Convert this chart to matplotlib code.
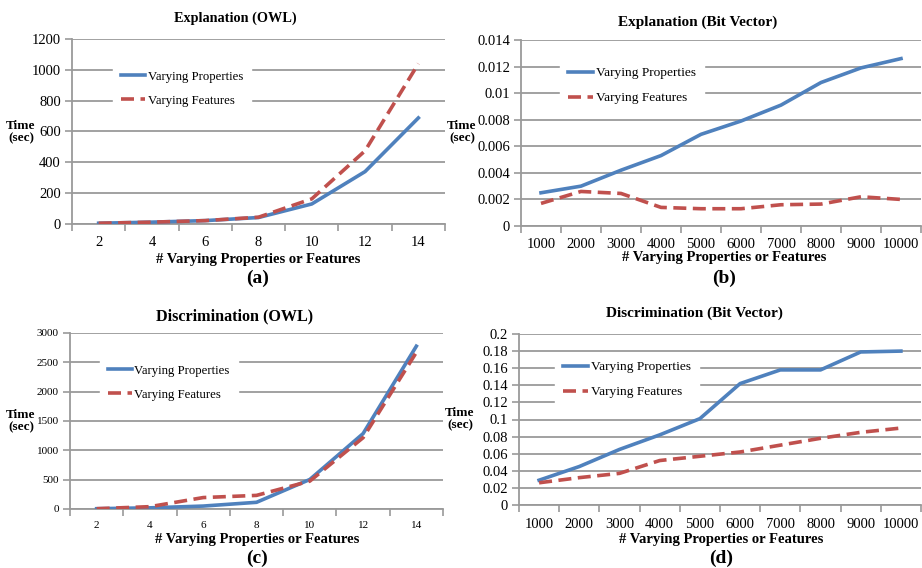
import numpy as np
import matplotlib.pyplot as plt

plt.rcParams['font.family'] = ['Liberation Serif', 'DejaVu Serif']

# data
owl_x = [2, 4, 6, 8, 10, 12, 14]
bit_x = [1000, 2000, 3000, 4000, 5000, 6000, 7000, 8000, 9000, 10000]

expl_owl_props = [5, 12, 22, 42, 130, 340, 688]
expl_owl_feats = [5, 12, 22, 44, 163, 475, 1040]

expl_bit_props = [0.0025, 0.003, 0.0042, 0.0053, 0.0069, 0.0079, 0.0091, 0.0108, 0.0119, 0.0126]
expl_bit_feats = [0.0017, 0.0026, 0.00245, 0.0014, 0.0013, 0.0013, 0.0016, 0.00165, 0.0022, 0.002]

disc_owl_props = [5, 20, 50, 114, 503, 1285, 2775]
disc_owl_feats = [5, 40, 195, 232, 475, 1215, 2670]

disc_bit_props = [0.029, 0.045, 0.065, 0.082, 0.101, 0.142, 0.158, 0.158, 0.179, 0.180]
disc_bit_feats = [0.026, 0.032, 0.037, 0.052, 0.057, 0.062, 0.070, 0.078, 0.085, 0.090]

BLUE = '#4f81bd'
RED = '#c0504d'
GRID = '#9a9a9a'

W, H = 922, 568
fig = plt.figure(figsize=(W / 100, H / 100), dpi=100)


def box(l, t, r, b):
    return [l / W, 1 - b / H, (r - l) / W, (b - t) / H]


def panel(rect, cats, props, feats, ymax, ystep, fmt, tick_fs, leg_xy, leg_fs):
    ax = fig.add_axes(rect)
    pos = np.arange(len(cats))
    ax.plot(pos, props, color=BLUE, lw=2.6, label='Varying Properties', zorder=3)
    ax.plot(pos, feats, color=RED, lw=2.6, ls=(0, (3.6, 1.8)), label='Varying Features', zorder=3)
    ax.set_xlim(-0.5, len(cats) - 0.5)
    ax.set_ylim(0, ymax)
    yt = np.arange(0, ymax + ystep / 2, ystep)
    ax.set_yticks(yt)
    ax.set_yticklabels([fmt(v) for v in yt], fontsize=tick_fs)
    ax.set_xticks(pos)
    ax.set_xticklabels([str(c) for c in cats], fontsize=tick_fs)
    ax.set_xticks(np.arange(-0.5, len(cats)), minor=True)
    ax.tick_params(axis='x', which='major', length=0, pad=9)
    ax.tick_params(axis='x', which='minor', length=5, color=GRID, width=1.2)
    ax.tick_params(axis='y', length=5, color=GRID, width=1.2, pad=3)
    ax.grid(axis='y', color=GRID, lw=1.3)
    ax.set_axisbelow(True)
    for s in ['top', 'right']:
        ax.spines[s].set_visible(False)
    for s in ['left', 'bottom']:
        ax.spines[s].set_color(GRID)
        ax.spines[s].set_linewidth(1.3)
    # legend anchor given in picture pixels
    anchor = (leg_xy[0] / W, 1 - leg_xy[1] / H)
    leg = ax.legend(loc='upper left', bbox_to_anchor=anchor, bbox_transform=fig.transFigure,
                    frameon=True, fancybox=False, edgecolor='white', framealpha=1,
                    fontsize=leg_fs, handlelength=1.9, handletextpad=0.2, labelspacing=0.95,
                    borderpad=0.6, borderaxespad=0)
    leg.set_zorder(2)
    return ax


def fmt_int(v):
    return '%d' % v


def fmt_dec(v):
    return '0' if v == 0 else ('%g' % round(v, 4))


panel(box(72, 39, 445, 224), owl_x, expl_owl_props, expl_owl_feats, 1200, 200, fmt_int, 10.5, (113, 63), 9.2)
panel(box(521, 40, 921, 226), bit_x, expl_bit_props, expl_bit_feats, 0.014, 0.002, fmt_dec, 10.5, (560, 59), 9.6)
panel(box(70, 333, 443, 509), owl_x, disc_owl_props, disc_owl_feats, 3000, 500, fmt_int, 8, (100, 357), 9.2)
panel(box(519, 334, 921, 505), bit_x, disc_bit_props, disc_bit_feats, 0.2, 0.02, fmt_dec, 10.5, (555, 353), 9.6)

titles = [('Explanation (OWL)', 235, 18, 10.3), ('Explanation (Bit Vector)', 698, 22, 11),
          ('Discrimination (OWL)', 235, 316, 11.6), ('Discrimination (Bit Vector)', 694, 313, 11)]
for t, x, y, fs in titles:
    fig.text(x / W, 1 - y / H, t, ha='center', va='center', fontsize=fs, fontweight='bold')

for x, y in [(21, 132), (462, 132), (21, 421), (460, 419)]:
    fig.text(x / W, 1 - y / H, 'Time\n(sec)', ha='center', va='center', fontsize=9.5,
             fontweight='bold', linespacing=1.1)

for x, y, y2, tag in [(258, 259, 278, '(a)'), (724, 258, 278, '(b)'),
                      (257, 540, 558, '(c)'), (721, 539, 558, '(d)')]:
    fig.text(x / W, 1 - y / H, '# Varying Properties or Features', ha='center', va='center',
             fontsize=10.5, fontweight='bold')
    fig.text(x / W, 1 - y2 / H, tag, ha='center', va='center', fontsize=14, fontweight='bold')

fig.savefig('out.png', dpi=100)
